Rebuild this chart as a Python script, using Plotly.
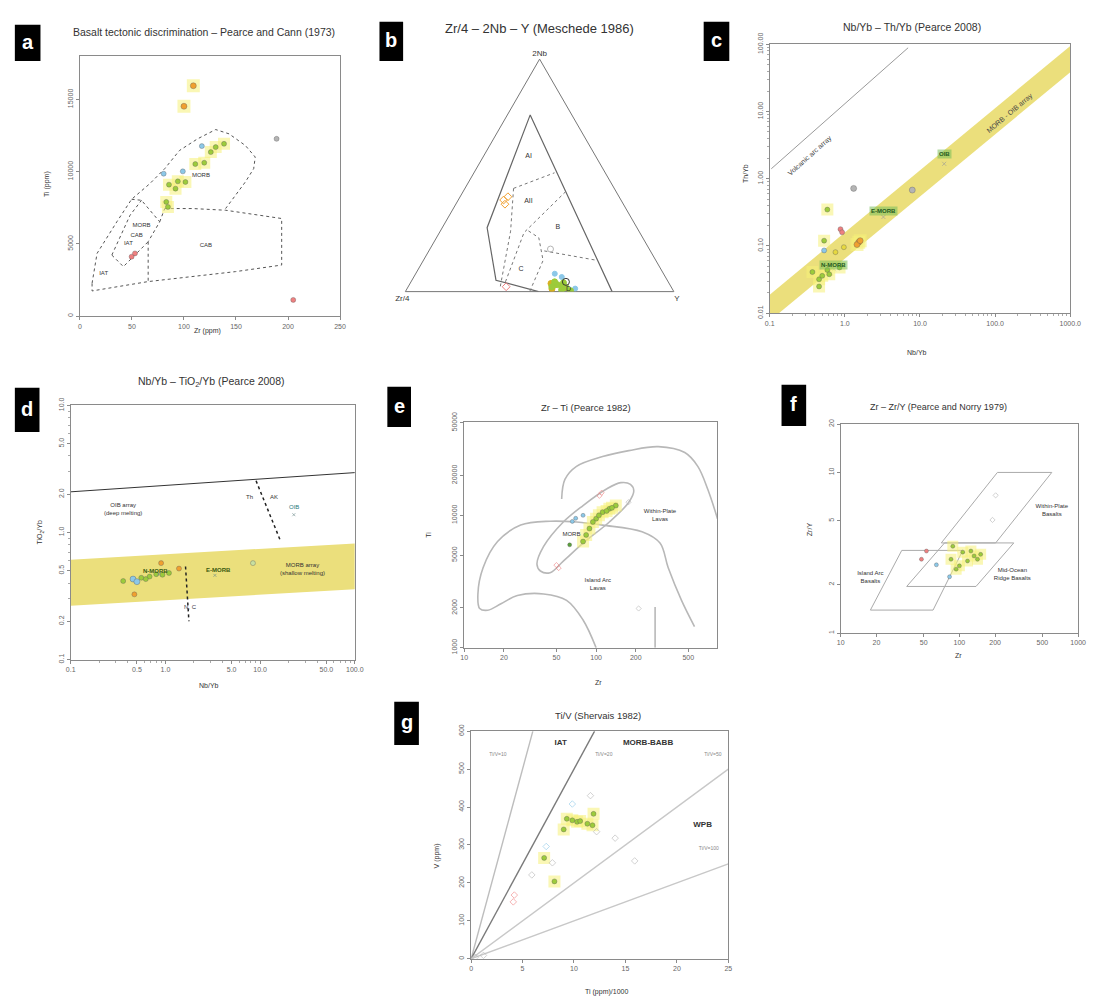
import math
import plotly.graph_objects as go

W, H = 1099, 1007
FONT = "Liberation Sans, Arial, sans-serif"


def px(x):
    return x / W


def py(y):
    return 1 - y / H


# ------------------------------------------------------------------ DATA
# (a) Pearce & Cann 1973, Zr (ppm) vs Ti (ppm)
a_green_zr = [138.5, 130.5, 125.8, 119.5, 110.9, 101.4, 94.1, 91.9, 85.6, 83, 84.6]
a_green_ti = [11932, 11703, 11357, 10621, 10529, 9288, 9334, 8828, 9104, 7908, 7563]
a_blue_zr = [80.5, 98.9, 117.2]
a_blue_ti = [9862, 10023, 11772]
a_pink_zr = [49.7, 52.9, 205]
a_pink_ti = [4117, 4345, 1125]
a_orange_zr = [109, 100]
a_orange_ti = [15950, 14530]
a_gray_zr = [189]
a_gray_ti = [12275]
# field boundaries
a_outer_zr = [11.7, 16.5, 35.5, 49.7, 67.2, 81.5, 95.7, 113.1, 130.5, 143.3, 159, 168.5, 167, 159, 149.5, 140]
a_outer_ti = [2276, 4345, 6531, 8090, 9173, 10208, 11470, 12277, 12918, 12622, 11815, 11015, 10208, 9290, 8366, 7449]
a_cab_zr = [81.5, 108.4, 140, 168.5, 193.9, 193.9, 149.5, 65.6, 11.7, 11.7]
a_cab_ti = [7449, 7449, 7332, 7035, 6759, 3538, 3083, 2393, 1745, 2276]
a_cabv_zr = [65.6, 65.6]
a_cabv_ti = [5152, 2393]
a_btop_zr = [49.7, 59.2, 76.7, 65.6]
a_btop_ti = [8090, 8021, 6531, 5152]
a_binner_zr = [30.7, 41.8, 65.6]
a_binner_ti = [4228, 3428, 5152]
a_bleft_zr = [30.7, 48.2, 59.2]
a_bleft_ti = [4228, 6987, 8021]
a_dleft_zr = [76.7, 81.5]
a_dleft_ti = [6531, 7449]
a_lab_zr = [116.3, 59.2, 54.5, 46.6, 121, 22.8]
a_lab_ti = [9745, 6297, 5607, 5035, 4918, 2966]
a_lab_txt = ["MORB", "MORB", "CAB", "IAT", "CAB", "IAT"]
a_xticks = [0, 50, 100, 150, 200, 250]
a_yticks = [0, 5000, 10000, 15000]

# (b) Meschede 1986 ternary (2Nb, Zr/4, Y)
b_orange_nb = [0.394, 0.408, 0.376]
b_orange_zr = [0.437, 0.414, 0.441]
b_orange_y = [0.169, 0.178, 0.183]
b_pink_nb = [0.021]
b_pink_zr = [0.614]
b_pink_y = [0.365]
b_gray_nb = [0.183]
b_gray_zr = [0.368]
b_gray_y = [0.449]
b_blue_nb = [0.077, 0.063, 0.013]
b_blue_zr = [0.405, 0.386, 0.361]
b_blue_y = [0.518, 0.551, 0.626]
b_green_nb = [0.021, 0.030, 0.008, 0.017, 0.042, 0.004, 0.038, 0.025]
b_green_zr = [0.444, 0.419, 0.414, 0.393, 0.423, 0.383, 0.392, 0.405]
b_green_y = [0.535, 0.551, 0.578, 0.590, 0.535, 0.613, 0.570, 0.570]
b_yel_nb = [0.012, 0.028, 0.035]
b_yel_zr = [0.448, 0.432, 0.440]
b_yel_y = [0.540, 0.540, 0.525]
b_open_nb = [0.042]
b_open_zr = [0.381]
b_open_y = [0.577]
# boundaries
b_inner_nb = [0.0, 0.049, 0.275, 0.760, 0.0]
b_inner_zr = [0.504, 0.638, 0.558, 0.155, 0.230]
b_inner_y = [0.496, 0.313, 0.167, 0.085, 0.770]
b_ai_nb = [0.444, 0.511]
b_ai_zr = [0.375, 0.189]
b_ai_y = [0.181, 0.300]
b_aiib_nb = [0.430, 0.254, 0.035]
b_aiib_zr = [0.188, 0.431, 0.612]
b_aiib_y = [0.382, 0.315, 0.353]
b_v1_nb = [0.444, 0.260, 0.021]
b_v1_zr = [0.375, 0.478, 0.636]
b_v1_y = [0.181, 0.262, 0.343]
b_cd_nb = [0.261, 0.232, 0.134, 0.0]
b_cd_zr = [0.411, 0.387, 0.420, 0.537]
b_cd_y = [0.328, 0.381, 0.446, 0.463]
b_bd_nb = [0.175, 0.134]
b_bd_zr = [0.395, 0.217]
b_bd_y = [0.430, 0.649]
b_lab_nb = [0.584, 0.387, 0.275, 0.098, 0.012]
b_lab_zr = [0.249, 0.348, 0.295, 0.520, 0.386]
b_lab_y = [0.167, 0.265, 0.430, 0.382, 0.602]
b_lab_txt = ["AI", "AII", "B", "C", "D"]

# (c) Pearce 2008 Nb/Yb vs Th/Yb
c_gray_nb = [1.31, 7.9]
c_gray_th = [0.72, 0.68]
c_green_nb = [0.585, 0.53, 0.37, 0.454, 0.454, 0.585, 0.85, 0.62, 0.5]
c_green_th = [0.348, 0.12, 0.041, 0.032, 0.025, 0.044, 0.048, 0.038, 0.036]
c_orange_nb = [1.53, 1.45, 1.6]
c_orange_th = [0.114, 0.105, 0.12]
c_pink_nb = [0.875, 0.92]
c_pink_th = [0.178, 0.16]
c_blue_nb = [0.53]
c_blue_th = [0.086]
c_yel_nb = [0.97, 0.75]
c_yel_th = [0.096, 0.081]
c_ref_nb = [21, 3.26, 0.716]
c_ref_th = [1.67, 0.27, 0.045]
c_ref_txt = ["OIB", "E-MORB", "N-MORB"]
c_ref_lab_th = [2.34, 0.33, 0.052]
c_band_nb = [0.1, 1000, 1000, 0.1]
c_band_th = [0.0189, 95, 38.6, 0.0077]
c_arc_nb = [0.105, 6.95]
c_arc_th = [1.41, 89]
c_xticks = [0.1, 1, 10, 100, 1000]
c_xtext = ["0.1", "1.0", "10.0", "100.0", "1000.0"]
c_yticks = [0.01, 0.1, 1, 10, 100]
c_ytext = ["0.01", "0.10", "1.00", "10.00", "100.00"]

# (d) Pearce 2008 Nb/Yb vs TiO2/Yb
d_green_nb = [0.358, 0.455, 0.556, 0.68, 0.93, 1.09, 0.62, 0.8]
d_green_ti = [0.415, 0.43, 0.44, 0.45, 0.465, 0.48, 0.43, 0.47]
d_blue_nb = [0.455, 0.5]
d_blue_ti = [0.43, 0.41]
d_orange_nb = [0.9, 1.39, 0.47]
d_orange_ti = [0.574, 0.52, 0.326]
d_pale_nb = [8.4]
d_pale_ti = [0.574]
d_ref_nb = [22.7, 3.33, 0.85]
d_ref_ti = [1.38, 0.46, 0.47]
d_oib_nb = [0.1, 100]
d_oib_ti = [2.09, 2.96]
d_band_nb = [0.1, 100, 100, 0.1]
d_band_ti = [0.61, 0.82, 0.358, 0.265]
d_thak_nb = [9.06, 16.5]
d_thak_ti = [2.55, 0.85]
d_nc_nb = [1.63, 1.77]
d_nc_ti = [0.54, 0.2]
d_xticks = [0.1, 0.5, 1, 5, 10, 50, 100]
d_xtext = ["0.1", "0.5", "1.0", "5.0", "10.0", "50.0", "100.0"]
d_yticks = [0.1, 0.2, 0.5, 1, 2, 5, 10]
d_ytext = ["0.1", "0.2", "0.5", "1.0", "2.0", "5.0", "10.0"]

# (e) Pearce 1982 Zr vs Ti
e_wpl_zr = [54.8, 58, 71, 112, 177, 296, 470, 590, 702, 832]
e_wpl_ti = [13280, 18660, 23440, 27800, 30830, 33030, 29790, 23440, 15740, 9440]
e_ial_zr = [557, 444, 352, 305, 223, 112, 71, 44.8, 26.8, 17.9, 13.9, 12.7, 13.1, 15.1, 19, 25.3, 40, 59.7, 79.6, 100]
e_ial_ti = [1446, 2280, 4020, 6170, 7510, 8440, 8910, 9030, 8440, 6340, 4020, 2550, 1980, 1920, 2150, 2480, 2550, 2280, 1622, 1000]
e_vert_zr = [280, 280]
e_vert_ti = [2030, 1000]
e_morb_zr = [35.6, 37.8, 44.8, 56.4, 79.6, 126, 177, 193, 182, 154, 119, 79.6, 56.4, 40, 35.6]
e_morb_ti = [4270, 3800, 3690, 4510, 6170, 8910, 12560, 15310, 17140, 17650, 15740, 11860, 8910, 5820, 4270]
e_pink_zr = [106, 110, 50, 52]
e_pink_ti = [14060, 14800, 4210, 4000]
e_gray_zr = [210, 176]
e_gray_ti = [1980, 12560]
e_green_zr = [141, 126, 112, 100, 94.5, 89, 84, 79.6, 105, 120, 132]
e_green_ti = [11860, 11200, 10570, 9440, 8910, 7950, 7110, 6340, 10000, 10800, 11400]
e_blue_zr = [79.6, 70, 66]
e_blue_ti = [10000, 9500, 9000]
e_dgreen_zr = [63]
e_dgreen_ti = [5990]
e_xticks = [10, 20, 50, 100, 200, 500]
e_yticks = [1000, 2000, 5000, 10000, 20000, 50000]

# (f) Pearce & Norry 1979 Zr vs Zr/Y
f_iab_zr = [17.8, 32.7, 106.7, 60, 17.8]
f_iab_zry = [1.39, 3.27, 3.27, 1.39, 1.39]
f_morb_zr = [36, 75, 287, 138, 36]
f_morb_zry = [1.95, 3.64, 3.64, 1.95, 1.95]
f_wpb_zr = [70.4, 209, 600, 202, 70.4]
f_wpb_zry = [3.64, 10, 10, 3.64, 3.64]
f_gray_zr = [202, 190]
f_gray_zry = [7.2, 5.06]
f_pink_zr = [52.8, 47.9]
f_pink_zry = [3.24, 2.88]
f_blue_zr = [64, 82.6]
f_blue_zry = [2.66, 2.24]
f_green_zr = [88, 106.7, 125, 133, 142, 117, 100, 93.9, 151, 85]
f_green_zry = [3.47, 3.19, 3.24, 3.02, 2.88, 2.81, 2.62, 2.5, 3.09, 2.88]
f_xticks = [10, 20, 50, 100, 200, 500, 1000]
f_yticks = [1, 2, 5, 10, 20]

# (g) Shervais 1982 Ti/1000 vs V
g_lines_ti = [[0, 6], [0, 12], [0, 25], [0, 25]]
g_lines_v = [[0, 600], [0, 600], [0, 500], [0, 250]]
g_lines_col = ["#bdbdbd", "#7a7a7a", "#c8c8c8", "#c8c8c8"]
g_gray_ti = [11.6, 12.2, 14.0, 7.9, 15.9, 5.9, 0.4, 1.2]
g_gray_v = [430, 335, 318, 253, 258, 221, 4, 9]
g_blue_ti = [9.84, 7.3]
g_blue_v = [408, 296]
g_green_ti = [11.9, 9.3, 9.84, 10.3, 10.6, 11.3, 11.8, 9.0, 7.1, 8.1]
g_green_v = [382, 369, 365, 361, 363, 356, 352, 341, 266, 204]
g_pink_ti = [4.2, 4.1]
g_pink_v = [168, 150]
g_xticks = [0, 5, 10, 15, 20, 25]
g_yticks = [0, 100, 200, 300, 400, 500, 600]

# colours
C_GREEN = "#9ccb3b"
C_DGREEN = "#5aa03c"
C_BLUE = "#8cc8e8"
C_PINK = "#ee8080"
C_ORANGE = "#f0a030"
C_GRAY = "#b4b4b4"
C_YEL = "#e6d840"
HALO = "rgba(246,240,120,0.55)"
BAND = "#ebdf7c"

fig = go.Figure()


def line(x, y, xa, ya, color="#666", width=1, dash="solid", shape="linear", fill=None, fillcolor=None):
    fig.add_trace(go.Scatter(x=x, y=y, xaxis=xa, yaxis=ya, mode="lines",
                             line=dict(color=color, width=width, dash=dash, shape=shape),
                             fill=fill, fillcolor=fillcolor,
                             showlegend=False, hoverinfo="skip"))


def pts(x, y, xa, ya, color, size=5, symbol="circle", halo=False, lc=None):
    if halo:
        fig.add_trace(go.Scatter(x=x, y=y, xaxis=xa, yaxis=ya, mode="markers",
                                 marker=dict(size=size + 7, color=HALO, symbol="square"),
                                 showlegend=False, hoverinfo="skip"))
    fig.add_trace(go.Scatter(x=x, y=y, xaxis=xa, yaxis=ya, mode="markers",
                             marker=dict(size=size, color=color, symbol=symbol,
                                         line=dict(width=0.6, color=lc or "rgba(90,90,90,0.6)")),
                             showlegend=False, hoverinfo="skip"))


def txt(x, y, t, xa, ya, size=6, color="#333"):
    fig.add_trace(go.Scatter(x=x, y=y, xaxis=xa, yaxis=ya, mode="text", text=t,
                             textfont=dict(size=size, color=color, family=FONT),
                             showlegend=False, hoverinfo="skip"))


# ---- (a)
for xs, ys in [(a_outer_zr, a_outer_ti), (a_cab_zr, a_cab_ti), (a_cabv_zr, a_cabv_ti),
               (a_btop_zr, a_btop_ti), (a_binner_zr, a_binner_ti), (a_bleft_zr, a_bleft_ti),
               (a_dleft_zr, a_dleft_ti)]:
    line(xs, ys, "x", "y", dash="dot", color="#555")
pts(a_green_zr, a_green_ti, "x", "y", C_GREEN, halo=True)
pts(a_blue_zr, a_blue_ti, "x", "y", C_BLUE)
pts(a_pink_zr, a_pink_ti, "x", "y", C_PINK)
pts(a_orange_zr, a_orange_ti, "x", "y", C_ORANGE, size=6, halo=True)
pts(a_gray_zr, a_gray_ti, "x", "y", C_GRAY)
txt(a_lab_zr, a_lab_ti, a_lab_txt, "x", "y", size=6)

# ---- (c)
line(c_band_nb, c_band_th, "x2", "y2", color=BAND, width=0, fill="toself", fillcolor=BAND)
line(c_arc_nb, c_arc_th, "x2", "y2", color="#9a9a9a", width=1)
pts(c_ref_nb, c_ref_th, "x2", "y2", "#d8d8a8", size=4, symbol="x-thin", lc="#999")
pts(c_green_nb, c_green_th, "x2", "y2", C_GREEN, halo=True)
pts(c_gray_nb, c_gray_th, "x2", "y2", C_GRAY, size=6)
pts(c_orange_nb, c_orange_th, "x2", "y2", C_ORANGE, size=6, halo=True)
pts(c_pink_nb, c_pink_th, "x2", "y2", C_PINK)
pts(c_blue_nb, c_blue_th, "x2", "y2", C_BLUE)
pts(c_yel_nb, c_yel_th, "x2", "y2", C_YEL)

# ---- (d)
line(d_band_nb, d_band_ti, "x3", "y3", color=BAND, width=0, fill="toself", fillcolor=BAND)
line(d_oib_nb, d_oib_ti, "x3", "y3", color="#333", width=1)
line(d_thak_nb, d_thak_ti, "x3", "y3", color="#222", width=1.5, dash="dot")
line(d_nc_nb, d_nc_ti, "x3", "y3", color="#222", width=1.5, dash="dot")
pts(d_green_nb, d_green_ti, "x3", "y3", C_GREEN)
pts(d_blue_nb, d_blue_ti, "x3", "y3", C_BLUE, size=6)
pts(d_orange_nb, d_orange_ti, "x3", "y3", C_ORANGE)
pts(d_pale_nb, d_pale_ti, "x3", "y3", "#c8e0a0")
pts(d_ref_nb, d_ref_ti, "x3", "y3", "#7aa0a0", size=3, symbol="x-thin", lc="#6a8a8a")

# ---- (e)
line(e_wpl_zr, e_wpl_ti, "x4", "y4", color="#b8b8b8", width=1.6, shape="spline")
line(e_ial_zr, e_ial_ti, "x4", "y4", color="#b8b8b8", width=1.6, shape="spline")
line(e_vert_zr, e_vert_ti, "x4", "y4", color="#b8b8b8", width=1.6)
line(e_morb_zr, e_morb_ti, "x4", "y4", color="#b8b8b8", width=1.6, shape="spline")
pts(e_green_zr, e_green_ti, "x4", "y4", C_GREEN, halo=True)
pts(e_pink_zr, e_pink_ti, "x4", "y4", C_PINK, size=4, symbol="diamond-open", lc=C_PINK)
pts(e_gray_zr, e_gray_ti, "x4", "y4", C_GRAY, size=4, symbol="diamond-open", lc=C_GRAY)
pts(e_blue_zr, e_blue_ti, "x4", "y4", C_BLUE, size=4)
pts(e_dgreen_zr, e_dgreen_ti, "x4", "y4", C_DGREEN, size=4)
txt([305, 65, 103], [10000, 7110, 3025],
    ["Within-Plate<br>Lavas", "MORB", "Island Arc<br>Lavas"], "x4", "y4", size=6)

# ---- (f)
line(f_iab_zr, f_iab_zry, "x5", "y5", color="#aaa", width=1)
line(f_morb_zr, f_morb_zry, "x5", "y5", color="#aaa", width=1)
line(f_wpb_zr, f_wpb_zry, "x5", "y5", color="#aaa", width=1)
pts(f_green_zr, f_green_zry, "x5", "y5", C_GREEN, size=4, halo=True)
pts(f_gray_zr, f_gray_zry, "x5", "y5", C_GRAY, size=4, symbol="diamond-open", lc=C_GRAY)
pts(f_pink_zr, f_pink_zry, "x5", "y5", C_PINK, size=4)
pts(f_blue_zr, f_blue_zry, "x5", "y5", C_BLUE, size=4)
txt([600, 279, 17.8], [5.8, 2.31, 2.22],
    ["Within-Plate<br>Basalts", "Mid-Ocean<br>Ridge Basalts", "Island Arc<br>Basalts"], "x5", "y5", size=6)

# ---- (g)
for lx, lv, lc in zip(g_lines_ti, g_lines_v, g_lines_col):
    line(lx, lv, "x6", "y6", color=lc, width=1.4)
pts(g_green_ti, g_green_v, "x6", "y6", C_GREEN, halo=True)
pts(g_gray_ti, g_gray_v, "x6", "y6", C_GRAY, size=5, symbol="diamond-open", lc=C_GRAY)
pts(g_blue_ti, g_blue_v, "x6", "y6", C_BLUE, size=5, symbol="diamond-open", lc=C_BLUE)
pts(g_pink_ti, g_pink_v, "x6", "y6", C_PINK, size=5, symbol="diamond-open", lc=C_PINK)
txt([8.7, 17.2, 22.5], [568, 568, 352], ["<b>IAT</b>", "<b>MORB-BABB</b>", "<b>WPB</b>"], "x6", "y6", size=8, color="#333")
txt([2.6, 12.9, 23.5, 23.1], [537, 537, 537, 289], ["Ti/V=10", "Ti/V=20", "Ti/V=50", "Ti/V=100"], "x6", "y6", size=5, color="#888")


# ---- (b) ternary
def tline(a, b, c, color="#555", dash="solid", width=1):
    fig.add_trace(go.Scatterternary(a=a, b=b, c=c, mode="lines", subplot="ternary",
                                    line=dict(color=color, width=width, dash=dash),
                                    showlegend=False, hoverinfo="skip"))


def tpts(a, b, c, color, symbol="circle", size=5):
    fig.add_trace(go.Scatterternary(a=a, b=b, c=c, mode="markers", subplot="ternary",
                                    marker=dict(size=size, color=color, symbol=symbol,
                                                line=dict(width=1, color=color)),
                                    showlegend=False, hoverinfo="skip"))


tline(b_inner_nb, b_inner_zr, b_inner_y, color="#666", width=1.2)
for aa, bb, cc in [(b_ai_nb, b_ai_zr, b_ai_y), (b_aiib_nb, b_aiib_zr, b_aiib_y), (b_v1_nb, b_v1_zr, b_v1_y),
                   (b_cd_nb, b_cd_zr, b_cd_y), (b_bd_nb, b_bd_zr, b_bd_y)]:
    tline(aa, bb, cc, dash="dot", color="#777")
tpts(b_orange_nb, b_orange_zr, b_orange_y, C_ORANGE, symbol="diamond-open", size=6)
tpts(b_pink_nb, b_pink_zr, b_pink_y, C_PINK, symbol="diamond-open", size=6)
tpts(b_gray_nb, b_gray_zr, b_gray_y, C_GRAY, symbol="circle-open", size=6)
tpts(b_blue_nb, b_blue_zr, b_blue_y, C_BLUE, size=5)
tpts(b_yel_nb, b_yel_zr, b_yel_y, "#d8b020", size=6)
tpts(b_green_nb, b_green_zr, b_green_y, C_GREEN, size=6)
tpts(b_open_nb, b_open_zr, b_open_y, "#333", symbol="circle-open", size=7)
fig.add_trace(go.Scatterternary(a=b_lab_nb, b=b_lab_zr, c=b_lab_y, mode="text", text=b_lab_txt,
                                subplot="ternary", textfont=dict(size=7, color="#333", family=FONT),
                                showlegend=False, hoverinfo="skip"))


# ------------------------------------------------------------------ AXES
def minor_log(lo, hi):
    return [m * 10 ** k for k in range(lo, hi) for m in range(2, 10)]


def axis(dom, rng, typ="linear", tickvals=None, ticktext=None, minor=None, angle=0, anchor=None):
    d = dict(domain=dom, range=rng, type=typ, showline=True, mirror=True, linecolor="#8a8a8a",
             linewidth=1, ticks="outside", ticklen=3, tickcolor="#8a8a8a",
             tickfont=dict(size=7, color="#666", family=FONT), showgrid=False, zeroline=False,
             tickangle=angle, anchor=anchor, fixedrange=True)
    if tickvals is not None:
        d.update(tickmode="array", tickvals=tickvals, ticktext=ticktext or [str(v) for v in tickvals])
    if minor:
        d["minor"] = dict(tickmode="array", tickvals=minor, ticks="outside", ticklen=2, tickcolor="#aaa")
    return d


fig.update_layout(
    xaxis=axis([px(76), px(340)], [0, 250], tickvals=a_xticks, anchor="y"),
    yaxis=axis([py(310), py(45)], [0, 18000], tickvals=a_yticks, angle=-90, anchor="x"),
    xaxis2=axis([px(776), px(1081)], [-1, 3], "log", c_xticks, c_xtext, minor_log(-1, 3), anchor="y2"),
    yaxis2=axis([py(307), py(33)], [-2, 2], "log", c_yticks, c_ytext, minor_log(-2, 2), angle=-90, anchor="x2"),
    xaxis3=axis([px(66.7), px(355)], [-1, 2], "log", d_xticks, d_xtext, minor_log(-1, 2), anchor="y3"),
    yaxis3=axis([py(660), py(401)], [-1, 1], "log", d_yticks, d_ytext, minor_log(-1, 1), angle=-90, anchor="x3"),
    xaxis4=axis([px(466), px(723)], [1, 2.92], "log", e_xticks, anchor="y4"),
    yaxis4=axis([py(648), py(418)], [3, 4.704], "log", e_yticks, angle=-90, anchor="x4"),
    xaxis5=axis([px(848), px(1089)], [1, 3], "log", f_xticks, anchor="y5"),
    yaxis5=axis([py(633), py(420)], [0, 1.301], "log", f_yticks, angle=-90, anchor="x5"),
    xaxis6=axis([px(473), px(734)], [0, 25], tickvals=g_xticks, anchor="y6"),
    yaxis6=axis([py(965), py(733)], [0, 600], tickvals=g_yticks, angle=-90, anchor="x6"),
)

tern_axis = dict(showticklabels=False, ticks="", showgrid=False, linecolor="#777", linewidth=1, min=0,
                 layer="below traces")
fig.update_layout(ternary=dict(
    domain=dict(x=[px(390), px(695)], y=[py(285), py(48)]), sum=1, bgcolor="white",
    aaxis=dict(title=dict(text="2Nb", font=dict(size=8, color="#333", family=FONT)), **tern_axis),
    baxis=dict(title=dict(text="Zr/4", font=dict(size=8, color="#333", family=FONT)), **tern_axis),
    caxis=dict(title=dict(text="Y", font=dict(size=8, color="#333", family=FONT)), **tern_axis),
))

# ------------------------------------------------------------------ ANNOTATIONS
ann = []


def note(x, y, text, size=8, color="#333", angle=0, **kw):
    ann.append(dict(x=px(x), y=py(y), xref="paper", yref="paper", text=text, showarrow=False,
                    textangle=angle, font=dict(size=size, color=color, family=FONT),
                    xanchor="center", yanchor="middle", **kw))


# titles
note(202, 20, "Basalt tectonic discrimination \u2013 Pearce and Cann (1973)", 10.5)
note(542, 17, "Zr/4 \u2013 2Nb \u2013 Y (Meschede 1986)", 13)
note(920, 15, "Nb/Yb \u2013 Th/Yb (Pearce 2008)", 10.5)
note(210, 377, "Nb/Yb \u2013 TiO<sub>2</sub>/Yb (Pearce 2008)", 10.5)
note(590, 403, "Zr \u2013 Ti (Pearce 1982)", 9.5)
note(947, 403, "Zr \u2013 Zr/Y (Pearce and Norry 1979)", 9)
note(602, 717, "Ti/V (Shervais 1982)", 9.5)
# axis titles
note(205, 325, "Zr (ppm)", 7)
note(42, 175, "Ti (ppm)", 7, angle=-90)
note(925, 347, "Nb/Yb", 7)
note(752, 165, "Th/Yb", 7, angle=-90)
note(207, 686, "Nb/Yb", 7)
note(36, 530, "TiO<sub>2</sub>/Yb", 7, angle=-90)
note(602, 683, "Zr", 7)
note(430, 533, "Ti", 7, angle=-90)
note(968, 656, "Zr", 7)
note(816, 527, "Zr/Y", 7, angle=-90)
note(610, 999, "Ti (ppm)/1000", 7)
note(438, 860, "V (ppm)", 7, angle=-90)

# panel letters
for (x0, y0, x1, y1), letter in zip(
        [(10, 13, 36, 50), (380, 10, 404, 50), (709, 10, 735, 50), (10, 383, 35, 428),
         (388, 382, 412, 423), (788, 380, 813, 422), (395, 703, 420, 747)],
        ["a", "b", "c", "d", "e", "f", "g"]):
    fig.add_shape(type="rect", xref="paper", yref="paper", x0=px(x0), x1=px(x1), y0=py(y1), y1=py(y0),
                  fillcolor="black", line=dict(width=0))
    note((x0 + x1) / 2, (y0 + y1) / 2 - 1, "<b>%s</b>" % letter, 20, "white")


def lognote(xa, ya, x, y, text, size=6, color="#333", angle=0, bg=None):
    d = dict(x=math.log10(x), y=math.log10(y), xref=xa, yref=ya, text=text, showarrow=False,
             textangle=angle, font=dict(size=size, color=color, family=FONT))
    if bg:
        d["bgcolor"] = bg
    ann.append(d)


# (c) labels
lognote("x2", "y2", 0.34, 2.2, "Volcanic arc array", 7, "#444", angle=-42)
lognote("x2", "y2", 158, 9.6, "MORB - OIB array", 7, "#444", angle=-40)
for xv, yv, t in zip(c_ref_nb, c_ref_lab_th, c_ref_txt):
    lognote("x2", "y2", xv, yv, "<b>%s</b>" % t, 6, "#1f5a1f", bg="rgba(120,190,90,0.55)")
# (d) labels
lognote("x3", "y3", 0.357, 1.53, "OIB array<br>(deep melting)", 6, "#333")
lognote("x3", "y3", 27.7, 0.52, "MORB array<br>(shallow melting)", 6, "#333")
lognote("x3", "y3", 7.7, 1.89, "Th", 6, "#333")
lognote("x3", "y3", 14.1, 1.89, "AK", 6, "#333")
lognote("x3", "y3", 1.84, 0.258, "N, C", 6, "#334")
lognote("x3", "y3", 22.7, 1.58, "OIB", 6, "#2a7a7a")
lognote("x3", "y3", 0.79, 0.5, "<b>N-MORB</b>", 6, "#3a5a10")
lognote("x3", "y3", 3.6, 0.51, "<b>E-MORB</b>", 6, "#3a5a10")

fig.update_layout(
    annotations=ann,
    width=W, height=H, margin=dict(l=0, r=0, t=0, b=0),
    paper_bgcolor="white", plot_bgcolor="white",
    font=dict(family=FONT, color="#333"),
    showlegend=False,
)

fig.write_html("out.html", config={"displayModeBar": False},
               post_script="document.body.style.margin='0';")
